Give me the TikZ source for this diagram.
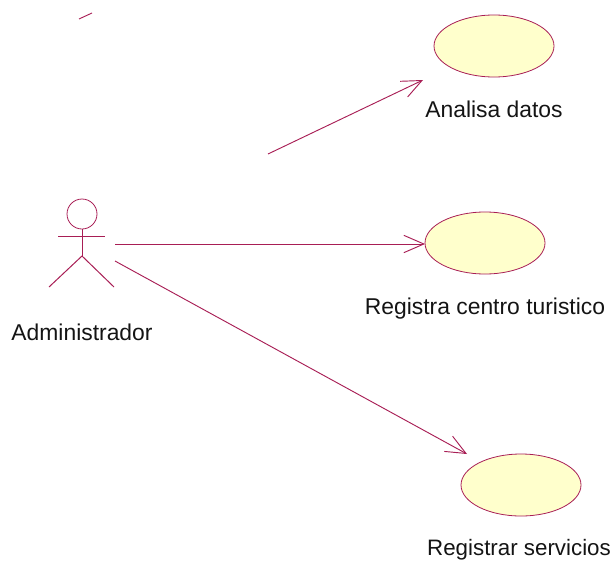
\documentclass[tikz,border=0pt]{standalone}
\usepackage{fontspec}
\setmainfont{Liberation Sans}
\usetikzlibrary{arrows.meta,shapes.geometric}
\definecolor{umlline}{HTML}{A81E55}
\definecolor{umlfill}{HTML}{FFFFCC}
\tikzset{
  usecase/.style={draw=umlline,fill=umlfill,ellipse,line width=0.6pt,minimum width=90pt,minimum height=46.5pt,inner sep=0pt},
  actorline/.style={draw=umlline,line width=0.75pt},
  assoc/.style={draw=umlline,line width=0.7pt,-{Straight Barb[length=15pt,width=13pt,line width=0.7pt]}},
  plainassoc/.style={draw=umlline,line width=0.7pt},
  lbl/.style={font=\fontsize{17.15pt}{20pt}\selectfont,text=black!92,anchor=base,inner sep=0pt}
}
\begin{document}
\begin{tikzpicture}[x=0.75pt,y=-0.75pt]
\useasboundingbox (0,0) rectangle (616,560);
\node[usecase] (uc1) at (494,46) {};
\node[usecase] (uc2) at (485,243) {};
\node[usecase] (uc3) at (521,485) {};
\node[lbl] (l1) at (494,117) {Analisa datos};
\node[lbl] (l2) at (485,314) {Registra centro turistico};
\node[lbl,font=\fontsize{16.75pt}{20pt}\selectfont] (l3) at (519,555) {Registrar servicios};
\node[lbl] (l4) at (82,340) {Administrador};
% actor
\node[circle,draw=umlline,line width=0.6pt,minimum size=22.5pt,inner sep=0pt] (head) at (82,214) {};
\coordinate (armL) at (58,236);
\coordinate (armR) at (105,236);
\coordinate (hip) at (82,256);
\coordinate (footL) at (49,287);
\coordinate (footR) at (114,287);
\draw[actorline] (head.south) -- (hip);
\draw[actorline] (armL) -- (armR);
\draw[actorline] (footL) -- (hip) -- (footR);
% connectors
\coordinate (a1s) at (268,154);
\coordinate (a1e) at (423,80);
\coordinate (a2s) at (115,244);
\coordinate (a2e) at (425,244);
\coordinate (a3s) at (115,261);
\coordinate (a3e) at (467,454);
\coordinate (s1) at (79,19);
\coordinate (s2) at (92,13);
\draw[assoc] (a1s) -- (a1e);
\draw[assoc] (a2s) -- (a2e);
\draw[assoc] (a3s) -- (a3e);
\draw[plainassoc] (s1) -- (s2);
\end{tikzpicture}
\end{document}
